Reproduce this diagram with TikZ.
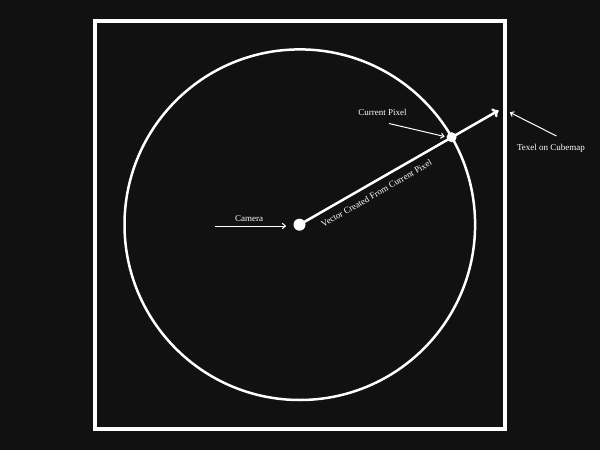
\documentclass[tikz,border=0pt]{standalone}
\usepackage{fontspec}
\setmainfont{Liberation Serif}
\usetikzlibrary{arrows.meta,calc}
\definecolor{bg}{HTML}{111111}
\begin{document}
\begin{tikzpicture}[x=1pt,y=-1pt,
  lbl/.style={text=white,font=\fontsize{9}{10}\selectfont,inner sep=0pt},
  thin arrow/.style={draw=white,line width=1pt,-{To[length=4pt,width=6pt]}},
  dot/.style={circle,fill=white,inner sep=0pt}]
\fill[bg] (0,0) rectangle (600,450);
\useasboundingbox (0,0) rectangle (600,450);
% frame (cubemap)
\draw[white,line width=4pt] (95,20.5) rectangle (504.5,429);
% sphere
\draw[white,line width=2.5pt] (299.8,224.7) circle[radius=175.3];
% camera and current pixel
\node[dot,minimum size=12pt] (cam) at (299.5,224.7) {};
\node[dot,minimum size=10pt] (pix) at (451.6,137.2) {};
\coordinate (tex) at (498.5,110.5);
\draw[white,line width=2.5pt,-{To[length=6pt,width=10pt]}] (cam.center) -- (tex);
% labels
\node[lbl] (camlbl) at (249,218.5) {Camera};
\coordinate (cs) at (215,226);
\coordinate (ce) at (286,226);
\draw[thin arrow] (cs) -- (ce);
\node[lbl] (pixlbl) at (382.5,112.5) {Current Pixel};
\coordinate (ps) at (389,123.5);
\coordinate (pe) at (444.5,136.5);
\draw[thin arrow] (ps) -- (pe);
\node[lbl] (texlbl) at (551,148) {Texel on Cubemap};
\coordinate (ts) at (556.5,136);
\coordinate (te) at (510,112.5);
\draw[thin arrow] (ts) -- (te);
\node[lbl,rotate=30] (veclbl) at (376.5,193.5) {Vector Created From Current Pixel};
\end{tikzpicture}
\end{document}
